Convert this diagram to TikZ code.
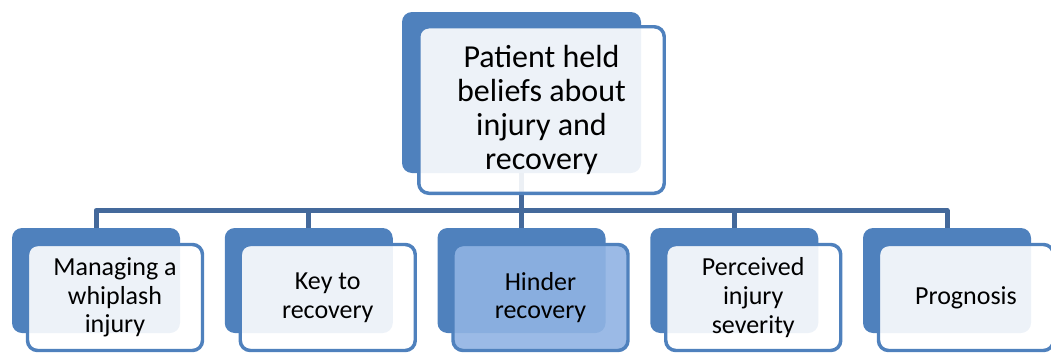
\documentclass[tikz,border=0pt]{standalone}
\usepackage{fontspec}
\setmainfont{Carlito}
\usepackage{xcolor}
\usetikzlibrary{positioning}
\definecolor{boxblue}{HTML}{4F81BD}
\definecolor{linkblue}{HTML}{44699B}
\definecolor{hilite}{HTML}{90B3E3}
\tikzstyle{link} = [line width=3.75pt, linkblue, line join=round]
\tikzset{every node/.style={align=center}}

\begin{document}
\begin{tikzpicture}[x=0.75pt, y=-0.75pt,
    back/.style={rectangle, rounded corners=7.5pt, fill=boxblue, inner sep=0pt,
                 minimum width=126pt, minimum height=78.75pt},
    front/.style={rectangle, rounded corners=7.5pt, draw=boxblue, line width=2.6pt,
                  fill=white, fill opacity=0.9, text opacity=1, inner sep=0pt,
                  minimum width=131.25pt, minimum height=79.5pt,
                  font=\fontsize{19.5}{21.5}\selectfont}
]
  \useasboundingbox (0,0) rectangle (1051,354);

  % --- back boxes ---
  \node[back, minimum width=179.25pt, minimum height=120.75pt] (ROOTB) at (521.5, 92.5) {};
  \node[back] (MWIB)  at (96,     280.5) {};
  \node[back] (KEYB)  at (308.75, 280.5) {};
  \node[back] (HINB)  at (521.5,  280.5) {};
  \node[back] (PISB)  at (734.25, 280.5) {};
  \node[back] (PROGB) at (947,    280.5) {};

  % --- connectors ---
  \coordinate (JOIN) at (521.5, 210.5);
  \draw[link] (ROOTB.south) -- (JOIN);
  \draw[link] (JOIN) -| (MWIB.north);
  \draw[link] (JOIN) -| (KEYB.north);
  \draw[link] (JOIN) -- (HINB.north);
  \draw[link] (JOIN) -| (PISB.north);
  \draw[link] (JOIN) -| (PROGB.north);

  % --- front boxes ---
  \node[front, minimum width=184.1pt, minimum height=124.9pt,
        font=\fontsize{24}{25.5}\selectfont] (ROOT) at (541.5, 110)
        {Patient held\\beliefs about\\injury and\\recovery};
  \node[front] (MWI)  at (115,     297.5) {Managing a\\whiplash\\injury};
  \node[front] (KEY)  at (327.75,  297.5) {Key to\\recovery};
  \node[front, fill=hilite] (HIN) at (540.5, 297.5) {Hinder\\recovery};
  \node[front] (PIS)  at (753.25,  297.5) {Perceived\\injury\\severity};
  \node[front] (PROG) at (966,     297.5) {Prognosis};
\end{tikzpicture}
\end{document}
